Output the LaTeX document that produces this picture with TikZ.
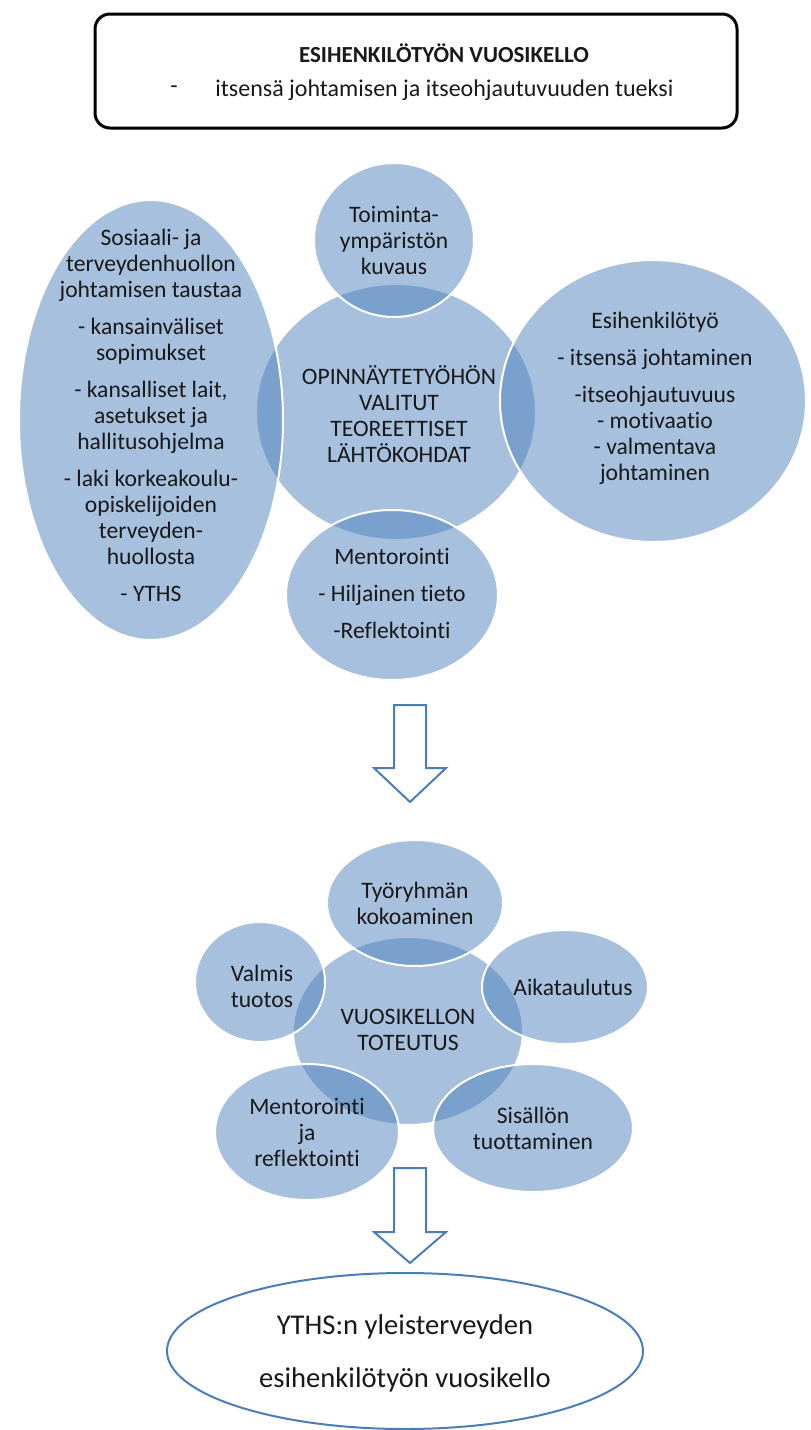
\documentclass[tikz,border=0pt]{standalone}
\usepackage{fontspec}
\setmainfont{Carlito}[Ligatures=NoCommon]
\usetikzlibrary{shapes.geometric}
\definecolor{vennblue}{HTML}{4F81BD}
\definecolor{arrowblue}{HTML}{4A7EBB}
\tikzset{
	venn/.style={ellipse, fill=vennblue, fill opacity=0.5, draw=white, line width=1pt, inner sep=0pt},
	venntext/.style={align=center, text=black!90, inner sep=0pt, font=\fontsize{11.8}{13}\selectfont},
	blockarrow/.style={draw=arrowblue, fill=white, line width=1pt},
}

\begin{document}
\begin{tikzpicture}[x=0.5pt, y=-0.5pt]
			%%%%% START %%%%%
			\useasboundingbox (0, 0) rectangle (810, 1430);
			
			\node[draw=black, line width=1.5pt, rounded corners=7.5pt, minimum width=321pt, minimum height=57pt] (headbox) at (416, 71) {};
			\node[font=\fontsize{11.5}{13}\selectfont\bfseries, text=black!90] (headtitle) at (444, 53) {ESIHENKILÖTYÖN VUOSIKELLO};
			\node[font=\fontsize{12}{13}\selectfont, text=black!90] (headdash) at (174, 90) {-};
			\node[font=\fontsize{12}{13}\selectfont, text=black!90, anchor=west, inner sep=0pt] (headsub) at (215, 90) {itsensä johtamisen ja itseohjautuvuuden tueksi};
			
			% teoreettiset lahtokohdat
			\node[venn, minimum width=140pt, minimum height=128pt] (teoria) at (396, 412) {};
			\node[venn, minimum width=132pt, minimum height=220pt] (tausta) at (151, 420) {};
			\node[venn, minimum width=80pt, minimum height=77pt] (toiminta) at (394, 240) {};
			\node[venn, minimum width=153pt, minimum height=141pt] (esihenk) at (653, 401) {};
			\node[venn, minimum width=106pt, minimum height=85pt] (mentor) at (392, 595) {};
			
			\node[venntext] (teoriatxt) at (399, 414) {OPINNÄYTETYÖHÖN\\VALITUT\\TEOREETTISET\\LÄHTÖKOHDAT};
			\node[venntext] (taustatxt) at (151, 415) {Sosiaali- ja\\terveydenhuollon\\johtamisen taustaa\\[5.5pt]- kansainväliset\\sopimukset\\[5.5pt]- kansalliset lait,\\asetukset ja\\hallitusohjelma\\[5.5pt]- laki korkeakoulu-\\opiskelijoiden\\terveyden-\\huollosta\\[5.5pt]- YTHS};
			\node[venntext] (toimintatxt) at (394, 240) {Toiminta-\\ympäristön\\kuvaus};
			\node[venntext] (esihenktxt) at (655, 398) {Esihenkilötyö\\[5.5pt]- itsensä johtaminen\\[5.5pt]-itseohjautuvuus\\- motivaatio\\- valmentava\\johtaminen};
			\node[venntext] (mentortxt) at (392, 593) {Mentorointi\\[5.5pt]- Hiljainen tieto\\[5.5pt]-Reflektointi};
			
			\draw[blockarrow] (394, 705) -- (426, 705) -- (426, 768) -- (446, 768) -- (410, 802) -- (374, 768) -- (394, 768) -- cycle;
			
			% vuosikellon toteutus
			\node[venn, minimum width=115pt, minimum height=94pt] (toteutus) at (408, 1031) {};
			\node[venn, minimum width=88pt, minimum height=63pt] (tyoryhma) at (415, 903) {};
			\node[venn, minimum width=65pt, minimum height=60pt] (valmis) at (260, 982) {};
			\node[venn, minimum width=83pt, minimum height=57pt] (aikataulu) at (565, 987) {};
			\node[venn, minimum width=92pt, minimum height=68pt] (reflektio) at (307, 1132) {};
			\node[venn, minimum width=100pt, minimum height=64pt] (sisalto) at (533, 1128) {};
			
			\node[venntext] (toteutustxt) at (408, 1030) {VUOSIKELLON\\TOTEUTUS};
			\node[venntext] (tyoryhmatxt) at (415, 903) {Työryhmän\\kokoaminen};
			\node[venntext] (valmistxt) at (262, 986) {Valmis\\tuotos};
			\node[venntext] (aikataulutxt) at (573, 987) {Aikataulutus};
			\node[venntext] (reflektiotxt) at (307, 1132) {Mentorointi\\ja\\reflektointi};
			\node[venntext] (sisaltotxt) at (533, 1128) {Sisällön\\tuottaminen};
			
			\draw[blockarrow] (394, 1168) -- (426, 1168) -- (426, 1232) -- (446, 1232) -- (410, 1263) -- (374, 1232) -- (394, 1232) -- cycle;
			
			\node[ellipse, draw=arrowblue, line width=1pt, fill=white, minimum width=238pt, minimum height=78pt] (tulos) at (405, 1351) {};
			\node[align=center, text=black!90, font=\fontsize{14.3}{26.5}\selectfont] (tulostxt) at (405, 1353) {YTHS:n yleisterveyden\\esihenkilötyön vuosikello};
			%%%%% END %%%%%
\end{tikzpicture}
\end{document}
